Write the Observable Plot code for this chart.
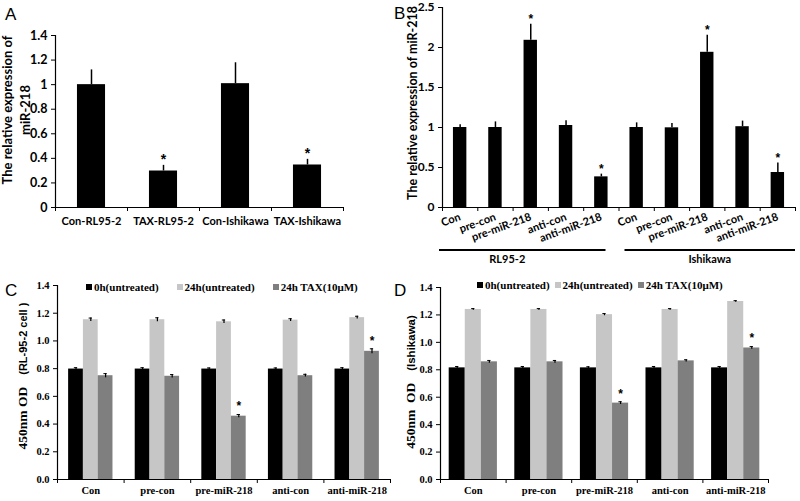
<!DOCTYPE html>
<html><head><meta charset="utf-8">
<script src="https://cdn.jsdelivr.net/npm/d3@7"></script>
<script src="https://cdn.jsdelivr.net/npm/@observablehq/plot@0.6"></script>
<style>
body{margin:0;background:#fff;}
#wrap{position:relative;width:800px;height:501px;overflow:hidden;background:#fff;}
.p{position:absolute;}
.p svg{overflow:visible;background:transparent;}
.letter{position:absolute;font-family:"Liberation Sans",Arial,sans-serif;font-size:17px;line-height:1;}
.vlab{position:absolute;white-space:nowrap;transform:translate(-50%,-50%) rotate(-90deg);text-align:center;}
.leg{position:absolute;font-family:"Liberation Serif","Times New Roman",serif;font-weight:bold;font-size:11px;white-space:nowrap;display:flex;align-items:center;}
.leg .sw{display:inline-block;width:6px;height:6px;margin-right:2px;}
</style></head><body><div id="wrap"></div>
<script>
// ---------- DATA ----------
// Panel A
const catsA = ["Con-RL95-2", "TAX-RL95-2", "Con-Ishikawa", "TAX-Ishikawa"];
const valsA = [1.00, 0.297, 1.008, 0.346];
const errA  = [0.12, 0.046, 0.17, 0.046];
const starA = [false, true, false, true];
const yTicksA  = [0, 0.2, 0.4, 0.6, 0.8, 1, 1.2, 1.4];
const yLabelsA = ["0", "0.2", "0.4", "0.6", "0.8", "1", "1.2", "1.4"];

// Panel B
const treatments = ["Con", "pre-con", "pre-miR-218", "anti-con", "anti-miR-218"];
const cellLines  = ["RL95-2", "Ishikawa"];
const valsB_RL   = [1.00, 1.00, 2.09, 1.025, 0.383];
const errB_RL    = [0.033, 0.07, 0.20, 0.058, 0.034];
const valsB_Ish  = [1.00, 0.996, 1.94, 1.01, 0.4375];
const errB_Ish   = [0.058, 0.054, 0.214, 0.07, 0.12];
const starB      = [false, false, true, false, true];
const yTicksB  = [0, 0.5, 1, 1.5, 2, 2.5];
const yLabelsB = ["0", "0.5", "1", "1.5", "2", "2.5"];

// Panels C & D
const seriesCD = ["0h(untreated)", "24h(untreated)", "24h TAX(10\u03bcM)"];
const c_0h  = [0.797, 0.797, 0.797, 0.797, 0.797];
const c_24h = [1.153, 1.153, 1.138, 1.150, 1.168];
const c_tax = [0.749, 0.745, 0.457, 0.749, 0.925];
const cErr_0h  = [0.010, 0.010, 0.008, 0.008, 0.010];
const cErr_24h = [0.012, 0.014, 0.013, 0.010, 0.010];
const cErr_tax = [0.015, 0.012, 0.012, 0.010, 0.018];
const d_0h  = [0.814, 0.814, 0.814, 0.814, 0.814];
const d_24h = [1.240, 1.240, 1.202, 1.240, 1.298];
const d_tax = [0.858, 0.858, 0.557, 0.865, 0.959];
const dErr_0h  = [0.010, 0.010, 0.008, 0.010, 0.010];
const dErr_24h = [0.006, 0.006, 0.008, 0.006, 0.006];
const dErr_tax = [0.010, 0.010, 0.010, 0.008, 0.010];
const starCD_tax = [false, false, true, false, true];
const yTicksCD  = [0, 0.2, 0.4, 0.6, 0.8, 1.0, 1.2, 1.4];
const yLabelsCD = ["0.0", "0.2", "0.4", "0.6", "0.8", "1.0", "1.2", "1.4"];

// ---------- STYLES ----------
const seriesColors = ["#000000", "#c6c6c6", "#7f7f7f"];
const sansFont = "Lato, 'Open Sans', sans-serif";
const serifFont = "'Liberation Serif', 'Times New Roman', serif";
const starFont = "'Liberation Sans', Arial, sans-serif";

const wrap = document.getElementById("wrap");
function place(node, left, top) {
  const d = document.createElement("div");
  d.className = "p"; d.style.left = left + "px"; d.style.top = top + "px";
  d.appendChild(node); wrap.appendChild(d);
}
function letter(t, left, top) {
  const d = document.createElement("div");
  d.className = "letter"; d.textContent = t;
  d.style.left = left + "px"; d.style.top = top + "px";
  wrap.appendChild(d);
}
function vlabel(html, cx, cy, css) {
  const d = document.createElement("div");
  d.className = "vlab"; d.innerHTML = html;
  d.style.left = cx + "px"; d.style.top = cy + "px";
  Object.assign(d.style, css || {});
  wrap.appendChild(d);
}
function legend(left, top, gap) {
  const d = document.createElement("div");
  d.className = "leg"; d.style.left = left + "px"; d.style.top = top + "px";
  seriesCD.forEach((s, i) => {
    const it = document.createElement("span");
    it.style.display = "inline-flex"; it.style.alignItems = "center";
    if (i > 0) it.style.marginLeft = gap + "px";
    const sw = document.createElement("span");
    sw.className = "sw"; sw.style.background = seriesColors[i];
    it.appendChild(sw);
    it.appendChild(document.createTextNode(s));
    d.appendChild(it);
  });
  wrap.appendChild(d);
}

// ---------- PANEL A ----------
{
  const n = catsA.length;
  const data = catsA.map((c, i) => ({i, c, v: valsA[i], e: errA[i], s: starA[i]}));
  const bw = 0.39;
  const chart = Plot.plot({
    width: 400, height: 250,
    marginLeft: 55, marginRight: 57, marginTop: 35, marginBottom: 43,
    style: {fontFamily: sansFont, fontWeight: "bold", fontSize: "12px", color: "#000"},
    x: {domain: [0, n], axis: null},
    y: {domain: [0, 1.4], axis: null},
    marks: [
      Plot.rectY(data, {x1: d => d.i + (1 - bw) / 2, x2: d => d.i + (1 + bw) / 2, y: "v", fill: "#000"}),
      Plot.ruleX(data, {x: d => d.i + 0.5, y1: "v", y2: d => d.v + d.e, stroke: "#000", strokeWidth: 1.5}),
      Plot.text(data.filter(d => d.s), {x: d => d.i + 0.5, y: d => d.v + d.e, text: () => "*", dy: -6, fontSize: 14, fontFamily: starFont, fill: "#000"}),
      Plot.ruleY([0], {stroke: "#000", strokeWidth: 1.2}),
      Plot.ruleX([0], {stroke: "#000", strokeWidth: 1.2}),
      Plot.axisY({ticks: yTicksA, tickFormat: d => yLabelsA[yTicksA.indexOf(d)], tickSize: 4, tickPadding: 4, label: null, fontSize: 12.5, fontWeight: "bold"}),
      Plot.axisX({ticks: d3.range(n + 1), tickFormat: () => "", tickSize: 4, label: null}),
      Plot.axisX({ticks: d3.range(n).map(i => i + 0.5), tickFormat: d => catsA[Math.floor(d)], tickSize: 0, tickPadding: 10, label: null, fontSize: 11, fontWeight: "bold"})
    ]
  });
  place(chart, 0, 0);
  vlabel("The relative expression of<br>miR-218", 16, 110, {fontFamily: sansFont, fontWeight: "bold", fontSize: "13px", lineHeight: "18px"});
  letter("A", 5, 6);
}

// ---------- PANEL B ----------
{
  const n = treatments.length * cellLines.length;
  const data = [];
  cellLines.forEach((cl, g) => treatments.forEach((t, j) => {
    const vals = g === 0 ? valsB_RL : valsB_Ish;
    const errs = g === 0 ? errB_RL : errB_Ish;
    data.push({i: g * treatments.length + j, t, cl, v: vals[j], e: errs[j], s: starB[j]});
  }));
  const bw = 0.38;
  const groupMark = (index, scales, values, dim) => {
    const g = d3.create("svg:g");
    const y0 = dim.height - dim.marginBottom;
    cellLines.forEach((cl, k) => {
      const a = scales.x(k * treatments.length) - (k === 0 ? 3 : -6);
      const b = scales.x((k + 1) * treatments.length) - (k === 0 ? 13 : 0);
      g.append("line").attr("x1", a).attr("x2", b).attr("y1", y0 + 43).attr("y2", y0 + 43)
        .attr("stroke", "#000").attr("stroke-width", 2);
      g.append("text").attr("x", (a + b) / 2 - (k === 0 ? 15 : 0)).attr("y", y0 + 56)
        .attr("text-anchor", "middle").attr("font-size", 11).attr("font-weight", "bold")
        .attr("font-family", sansFont).attr("fill", "#000").text(cl);
    });
    return g.node();
  };
  const chart = Plot.plot({
    width: 400, height: 270,
    marginLeft: 42, marginRight: 5, marginTop: 7, marginBottom: 63,
    style: {fontFamily: sansFont, fontWeight: "bold", fontSize: "12px", color: "#000"},
    x: {domain: [0, n], axis: null},
    y: {domain: [0, 2.5], axis: null},
    marks: [
      Plot.rectY(data, {x1: d => d.i + (1 - bw) / 2, x2: d => d.i + (1 + bw) / 2, y: "v", fill: "#000"}),
      Plot.ruleX(data, {x: d => d.i + 0.5, y1: "v", y2: d => d.v + d.e, stroke: "#000", strokeWidth: 1.5}),
      Plot.text(data.filter(d => d.s), {x: d => d.i + 0.5, y: d => d.v + d.e, text: () => "*", dy: -5, fontSize: 12, fontFamily: starFont, fill: "#000"}),
      Plot.ruleY([0], {stroke: "#000", strokeWidth: 1.2}),
      Plot.ruleX([0], {stroke: "#000", strokeWidth: 1.2}),
      Plot.axisY({ticks: yTicksB, tickFormat: d => yLabelsB[yTicksB.indexOf(d)], tickSize: 4, tickPadding: 4, label: null, fontSize: 12, fontWeight: "bold"}),
      Plot.axisX({ticks: d3.range(n + 1), tickFormat: () => "", tickSize: 4, label: null}),
      Plot.axisX({ticks: d3.range(n).map(i => i + 0.5), tickFormat: d => treatments[Math.floor(d) % treatments.length], tickSize: 0, tickPadding: 9, tickRotate: -20, label: null, fontSize: 11, fontWeight: "bold"}),
      groupMark
    ]
  });
  place(chart, 400, 0);
  vlabel("The relative expression of miR-218", 412, 103, {fontFamily: sansFont, fontWeight: "bold", fontSize: "12.5px"});
  letter("B", 394, 5);
}

// ---------- PANELS C & D ----------
function groupedPanel(v0, v24, vtax, e0, e24, etax, dims, bwFrac) {
  const n = treatments.length;
  const series = [[v0, e0], [v24, e24], [vtax, etax]];
  const data = [];
  treatments.forEach((t, i) => series.forEach(([vals, errs], s) => {
    data.push({i, s, t, v: vals[i], e: errs[i], star: s === 2 && starCD_tax[i]});
  }));
  const pad = (1 - 3 * bwFrac) / 2;
  const cx = d => d.i + pad + (d.s + 0.5) * bwFrac;
  const cap = 0.025;
  return Plot.plot({
    width: 400, height: 251,
    marginLeft: dims.ml, marginRight: dims.mr, marginTop: dims.mt, marginBottom: dims.mb,
    style: {fontFamily: serifFont, fontWeight: "bold", fontSize: "10px", color: "#000"},
    x: {domain: [0, n], axis: null},
    y: {domain: [0, 1.4], axis: null},
    marks: [
      Plot.rectY(data, {x1: d => d.i + pad + d.s * bwFrac, x2: d => d.i + pad + (d.s + 1) * bwFrac, y: "v", fill: d => seriesColors[d.s]}),
      Plot.ruleX(data, {x: cx, y1: d => d.v - d.e, y2: d => d.v + d.e, stroke: "#000", strokeWidth: 1.2}),
      Plot.ruleY(data, {x1: d => cx(d) - cap, x2: d => cx(d) + cap, y: d => d.v + d.e, stroke: "#000", strokeWidth: 1}),
      Plot.text(data.filter(d => d.star), {x: cx, y: d => d.v + d.e, text: () => "*", dy: -8, fontSize: 12, fontFamily: starFont, fill: "#000"}),
      Plot.ruleY([0], {stroke: "#000", strokeWidth: 1.2}),
      Plot.ruleX([0], {stroke: "#000", strokeWidth: 1.2}),
      Plot.axisY({ticks: yTicksCD, tickFormat: d => yLabelsCD[yTicksCD.indexOf(d)], tickSize: 4, tickPadding: 4, label: null, fontSize: 10.5, fontWeight: "bold", fontFamily: serifFont}),
      Plot.axisX({ticks: d3.range(n + 1), tickFormat: () => "", tickSize: 4, label: null}),
      Plot.axisX({ticks: d3.range(n).map(i => i + 0.5), tickFormat: d => treatments[Math.floor(d)], tickSize: 0, tickPadding: 7, label: null, fontSize: 10.5, fontWeight: "bold", fontFamily: serifFont})
    ]
  });
}
{
  const chartC = groupedPanel(c_0h, c_24h, c_tax, cErr_0h, cErr_24h, cErr_tax, {ml: 57, mr: 10, mt: 35, mb: 22}, 0.222);
  place(chartC, 0, 250);
  legend(86, 281, 18);
  vlabel("<span style=\"font-family:'Liberation Serif',serif;font-size:13.5px\">450nm OD</span>&nbsp;&nbsp;&nbsp;<span style=\"font-family:'Liberation Sans',Arial,sans-serif;font-size:11px\">(RL-95-2 cell )</span>", 22, 376, {fontWeight: "bold"});
  letter("C", 5, 282);

  const chartD = groupedPanel(d_0h, d_24h, d_tax, dErr_0h, dErr_24h, dErr_tax, {ml: 40, mr: 32, mt: 37, mb: 22}, 0.245);
  place(chartD, 400, 250);
  legend(477, 279, 5);
  vlabel("<span style=\"font-family:'Liberation Serif',serif;font-size:13.5px\">450nm&nbsp;&nbsp;OD</span>&nbsp;&nbsp;&nbsp;<span style=\"font-family:'Liberation Sans',Arial,sans-serif;font-size:11.5px\">(Ishikawa)</span>", 410, 382, {fontWeight: "bold"});
  letter("D", 394, 282);
}
</script>
</body></html>
